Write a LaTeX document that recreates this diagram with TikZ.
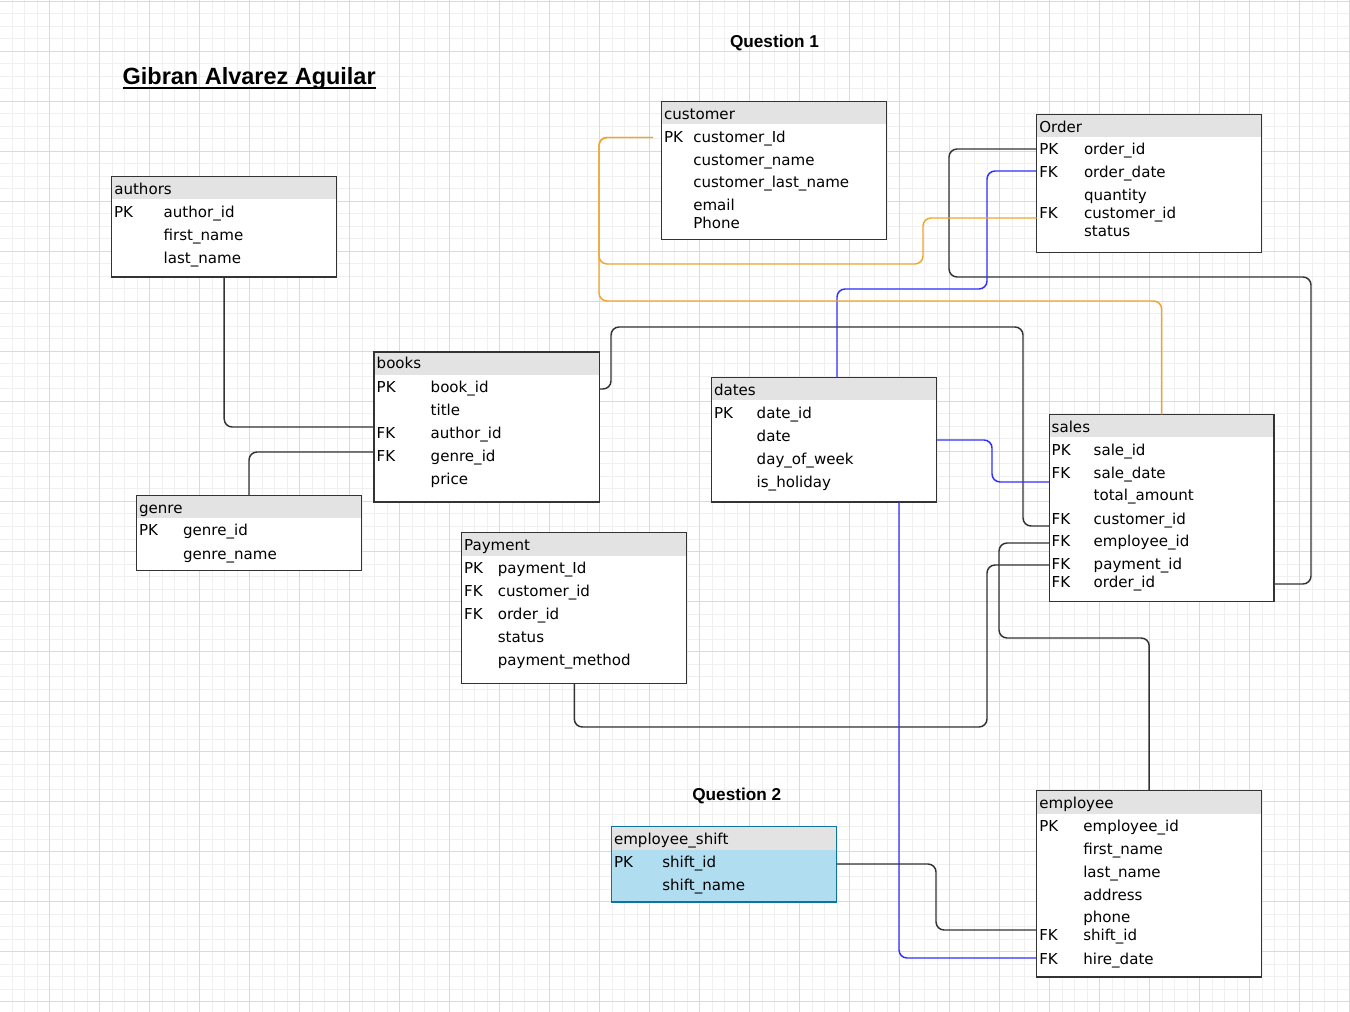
\documentclass[tikz,border=0pt]{standalone}
\usepackage{fontspec}
\setmainfont{DejaVu Sans}
\newfontfamily\titlefont{Liberation Sans}
\usetikzlibrary{fit}

\definecolor{gridminor}{RGB}{240,240,240}
\definecolor{gridmajor}{RGB}{218,218,218}
\definecolor{hdrgray}{RGB}{227,227,227}
\definecolor{boxline}{RGB}{51,51,51}
\definecolor{linkblue}{RGB}{48,48,255}
\definecolor{linkorange}{RGB}{240,165,50}
\definecolor{shiftfill}{RGB}{177,221,240}
\definecolor{shiftline}{RGB}{16,115,158}

% one text line inside an entity box: name, x, baseline y, text
\newcommand\erow[4]{\node[fld] (#1) at (#2,#3) {#4};}

\begin{document}
\begin{tikzpicture}[x=0.75pt,y=-0.75pt,
  tbl/.style={draw=boxline, line width=1pt, fill=white, inner sep=0pt, outer sep=0pt,
    path picture={\fill[hdrgray] (path picture bounding box.north west)
      rectangle ([yshift=-17.1pt]path picture bounding box.north east);}},
  shifttbl/.style={tbl, draw=shiftline, fill=shiftfill},
  fld/.style={anchor=base west, inner sep=0pt, outer sep=0pt,
    font=\fontsize{11.3pt}{13pt}\selectfont, text=black},
  heading/.style={anchor=base west, inner sep=0pt, outer sep=0pt,
    font=\titlefont\bfseries\fontsize{12.9pt}{15pt}\selectfont},
  link/.style={line width=1.1pt, rounded corners=6pt},
  blk/.style={link, draw=boxline},
  blu/.style={link, draw=linkblue},
  org/.style={link, draw=linkorange}
]
\useasboundingbox (0,0) rectangle (1350,1012);
\fill[white] (0,0) rectangle (1350,1012);

% background grid
\foreach \k in {0,...,108}
  \draw[gridminor, line width=0.75pt] ({-0.5+12.5*\k},0) -- ({-0.5+12.5*\k},1012);
\foreach \k in {0,...,81}
  \draw[gridminor, line width=0.75pt] (0,{1.5+12.5*\k}) -- (1350,{1.5+12.5*\k});
\foreach \k in {0,...,27}
  \draw[gridmajor, line width=0.75pt] ({-0.5+50*\k},0) -- ({-0.5+50*\k},1012);
\foreach \k in {0,...,20}
  \draw[gridmajor, line width=0.75pt] (0,{1.5+50*\k}) -- (1350,{1.5+50*\k});

% headings
\node[anchor=base west, inner sep=0pt, outer sep=0pt,
  font=\titlefont\bfseries\fontsize{17.6pt}{20pt}\selectfont] (title) at (122.7,84.3) {Gibran Alvarez Aguilar};
\draw[line width=1.5pt] ([yshift=-3pt]title.base west) -- ([yshift=-3pt]title.base east);
\node[heading] (q1) at (730,47.3) {Question 1};
\node[heading] (q2) at (692.3,800.7) {Question 2};

% entity boxes
\node[tbl, fit={(111.7,176.7) (336.7,277)}] (authors) {};
\node[tbl, fit={(661.3,101.7) (886.7,239.7)}] (customer) {};
\node[tbl, fit={(1036.7,114.3) (1261.7,252.3)}] (order) {};
\node[tbl, fit={(374,352) (599.3,502)}] (books) {};
\node[tbl, fit={(136.5,495.5) (361.5,570.5)}] (genre) {};
\node[tbl, fit={(711.7,377.7) (936.7,502)}] (dates) {};
\node[tbl, fit={(1049.3,414.3) (1274,601.7)}] (sales) {};
\node[tbl, fit={(461.8,532.7) (686.8,683.3)}] (payment) {};
\node[shifttbl, fit={(611.7,826.7) (836.7,902)}] (shift) {};
\node[tbl, fit={(1036.7,790.7) (1261.7,977)}] (employee) {};

% relationships
\coordinate (custout) at (653,137.5);
\draw[blk] (authors.south) |- (books.west |- 0,427);
\draw[blk] (genre.north) |- (books.west |- 0,452);
\draw[blk] (books.east |- 0,389) -- (611,389) -- (611,327) -- (1023,327) -- (1023,526) -- (sales.west |- 0,526);
\draw[blk] (order.west |- 0,149) -- (949,149) -- (949,277) -- (1311,277) -- (1311,584) -- (sales.east |- 0,584);
\draw[blu] (order.west |- 0,171) -- (987,171) -- (987,289) -- (837,289) -- (dates.north -| 837,0);
\draw[org] (custout) -- (599,137.5) -- (599,264) -- (923,264) -- (923,218) -- (order.west |- 0,218);
\draw[org] (custout) -- (599,137.5) -- (599,301) -- (1161.6,301) -- (sales.north);
\draw[blk] (sales.west |- 0,543) -- (999,543) -- (999,638) -- (1149.2,638) -- (employee.north);
\draw[blk] (sales.west |- 0,565) -- (987,565) -- (987,727) -- (574.3,727) -- (payment.south);
\draw[blu] (dates.east |- 0,440) -- (992,440) -- (992,482) -- (sales.west |- 0,482);
\draw[blu] (dates.south -| 899,0) -- (899,958) -- (employee.west |- 0,958);
\draw[blk] (shift.east |- 0,864) -- (936,864) -- (936,930) -- (employee.west |- 0,930);

% authors
\erow{au-h}{114.3}{194.3}{authors}
\erow{au-k1}{114}{217.3}{PK}
\erow{au-f1}{163.7}{217.3}{author\_id}
\erow{au-f2}{163.7}{240.3}{first\_name}
\erow{au-f3}{163.7}{263.3}{last\_name}

% customer
\erow{cu-h}{664}{119.3}{customer}
\erow{cu-k1}{664}{142.3}{PK}
\erow{cu-f1}{693.3}{142.3}{customer\_Id}
\erow{cu-f2}{693.3}{165.3}{customer\_name}
\erow{cu-f3}{693.3}{188}{customer\_last\_name}
\erow{cu-f4}{693.3}{211}{email}
\erow{cu-f5}{693.3}{229}{Phone}

% Order
\erow{or-h}{1039.3}{132.3}{Order}
\erow{or-k1}{1039.3}{155}{PK}
\erow{or-f1}{1084}{155}{order\_id}
\erow{or-k2}{1039.3}{178}{FK}
\erow{or-f2}{1084}{178}{order\_date}
\erow{or-f3}{1084}{201}{quantity}
\erow{or-k4}{1039.3}{219}{FK}
\erow{or-f4}{1084}{219}{customer\_id}
\erow{or-f5}{1084}{237}{status}

% books
\erow{bo-h}{376.7}{369}{books}
\erow{bo-k1}{376.7}{392.3}{PK}
\erow{bo-f1}{430.7}{392.3}{book\_id}
\erow{bo-f2}{430.7}{415.3}{title}
\erow{bo-k3}{376.7}{438.3}{FK}
\erow{bo-f3}{430.7}{438.3}{author\_id}
\erow{bo-k4}{376.7}{461.3}{FK}
\erow{bo-f4}{430.7}{461.3}{genre\_id}
\erow{bo-f5}{430.7}{484}{price}

% genre
\erow{ge-h}{139}{513}{genre}
\erow{ge-k1}{139}{536}{PK}
\erow{ge-f1}{183}{536}{genre\_id}
\erow{ge-f2}{183}{559}{genre\_name}

% dates
\erow{da-h}{714}{395.7}{dates}
\erow{da-k1}{714}{418.3}{PK}
\erow{da-f1}{756.7}{418.3}{date\_id}
\erow{da-f2}{756.7}{441.3}{date}
\erow{da-f3}{756.7}{464.3}{day\_of\_week}
\erow{da-f4}{756.7}{487.3}{is\_holiday}

% sales
\erow{sa-h}{1051.7}{432.3}{sales}
\erow{sa-k1}{1051.7}{455.7}{PK}
\erow{sa-f1}{1093.7}{455.7}{sale\_id}
\erow{sa-k2}{1051.7}{478.3}{FK}
\erow{sa-f2}{1093.7}{478.3}{sale\_date}
\erow{sa-f3}{1093.7}{501}{total\_amount}
\erow{sa-k4}{1051.7}{524}{FK}
\erow{sa-f4}{1093.7}{524}{customer\_id}
\erow{sa-k5}{1051.7}{546.7}{FK}
\erow{sa-f5}{1093.7}{546.7}{employee\_id}
\erow{sa-k6}{1051.7}{569.3}{FK}
\erow{sa-f6}{1093.7}{569.3}{payment\_id}
\erow{sa-k7}{1051.7}{587.3}{FK}
\erow{sa-f7}{1093.7}{587.3}{order\_id}

% Payment
\erow{pa-h}{464.1}{550}{Payment}
\erow{pa-k1}{464.1}{573.3}{PK}
\erow{pa-f1}{497.8}{573.3}{payment\_Id}
\erow{pa-k2}{464.1}{596.3}{FK}
\erow{pa-f2}{497.8}{596.3}{customer\_id}
\erow{pa-k3}{464.1}{619.3}{FK}
\erow{pa-f3}{497.8}{619.3}{order\_id}
\erow{pa-f4}{497.8}{642.3}{status}
\erow{pa-f5}{497.8}{665.3}{payment\_method}

% employee_shift
\erow{sh-h}{614}{844}{employee\_shift}
\erow{sh-k1}{614}{867.3}{PK}
\erow{sh-f1}{662.3}{867.3}{shift\_id}
\erow{sh-f2}{662.3}{890}{shift\_name}

% employee
\erow{em-h}{1039.3}{808.3}{employee}
\erow{em-k1}{1039.3}{831.3}{PK}
\erow{em-f1}{1083.3}{831.3}{employee\_id}
\erow{em-f2}{1083.3}{854}{first\_name}
\erow{em-f3}{1083.3}{877}{last\_name}
\erow{em-f4}{1083.3}{900}{address}
\erow{em-f5}{1083.3}{922.7}{phone}
\erow{em-k6}{1039.3}{940.7}{FK}
\erow{em-f6}{1083.3}{940.7}{shift\_id}
\erow{em-k7}{1039.3}{964}{FK}
\erow{em-f7}{1083.3}{964}{hire\_date}
\end{tikzpicture}
\end{document}
